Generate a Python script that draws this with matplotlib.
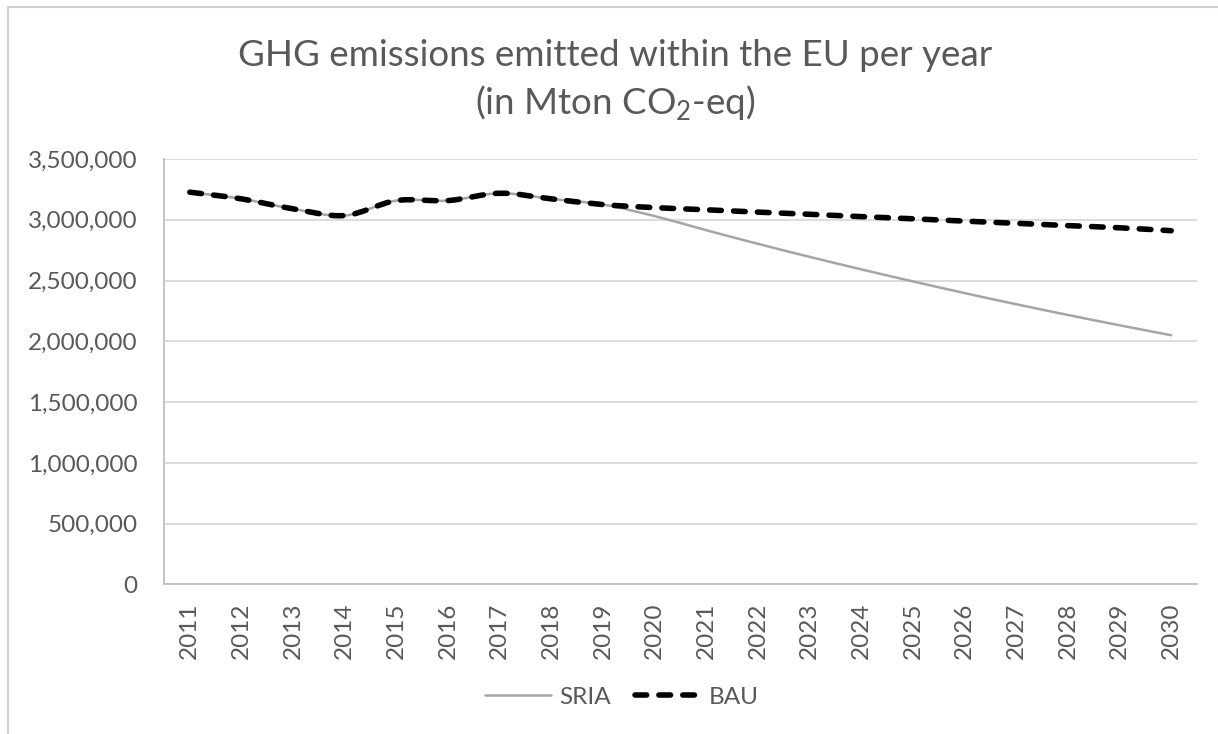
import matplotlib
matplotlib.use("Agg")
import matplotlib.pyplot as plt
import numpy as np
from matplotlib.path import Path
from matplotlib.patches import PathPatch
from matplotlib.lines import Line2D
from matplotlib.ticker import FuncFormatter, MultipleLocator

plt.rcParams['font.family'] = ['Lato', 'DejaVu Sans']
plt.rcParams['mathtext.fontset'] = 'custom'
plt.rcParams['mathtext.rm'] = 'Lato'

years = [str(y) for y in range(2011, 2031)]
bau = [3227000, 3172000, 3090000, 3035000, 3158000, 3158000, 3218000, 3172000,
       3125000, 3100000, 3082000, 3063000, 3045000, 3026000, 3008000, 2989000,
       2971000, 2952000, 2934000, 2910000]
sria = [3227000, 3172000, 3090000, 3035000, 3158000, 3158000, 3218000, 3172000,
        3125000, 3030000, 2914000, 2802000, 2695000, 2592000, 2493000, 2397000,
        2305000, 2217000, 2132000, 2050000]

TEXT = '#595959'
GRID = '#D9D9D9'
SRIA_C = '#A5A5A5'


def smooth_path(xs, ys):
    """Bezier path through the points, in the style of spreadsheet smoothed lines."""
    pts = np.column_stack([xs, ys]).astype(float)
    n = len(pts)
    verts = [pts[0]]
    codes = [Path.MOVETO]
    for i in range(n - 1):
        p0 = pts[i - 1] if i > 0 else pts[i]
        p1 = pts[i]
        p2 = pts[i + 1]
        p3 = pts[i + 2] if i + 2 < n else pts[i + 1]
        c1 = p1 + (p2 - p0) / 6.0
        c2 = p2 - (p3 - p1) / 6.0
        verts += [c1, c2, p2]
        codes += [Path.CURVE4] * 3
    return Path(verts, codes)


fig = plt.figure(figsize=(12.18, 7.34), dpi=100)
ax = fig.add_axes([164 / 1218, 1 - 584.4 / 734, (1197 - 164) / 1218, (584.4 - 159) / 734])

x = np.arange(len(years))

sria_style = dict(color=SRIA_C, linewidth=1.8, solid_capstyle='round')
bau_style = dict(color='black', linewidth=4.0, linestyle=(0, (2.1, 2.2)),
                 dash_capstyle='round')

ax.add_patch(PathPatch(smooth_path(x, sria), fill=False, edgecolor=SRIA_C,
                       linewidth=1.8, capstyle='round', zorder=3))
ax.add_patch(PathPatch(smooth_path(x, bau), fill=False, edgecolor='black',
                       linewidth=4.0, linestyle=(0, (2.1, 2.2)),
                       capstyle='round', zorder=4))

ax.set_xlim(-0.5, len(years) - 0.5)
ax.set_ylim(0, 3500000)
ax.yaxis.set_major_locator(MultipleLocator(500000))
ax.yaxis.set_major_formatter(FuncFormatter(lambda v, p: f"{int(v):,}"))
ax.set_xticks(x)
ax.set_xticklabels(years, rotation=90)

ax.grid(axis='y', color=GRID, linewidth=1.3, zorder=0)
ax.set_axisbelow(True)
for s in ['top', 'right']:
    ax.spines[s].set_visible(False)
for s in ['left', 'bottom']:
    ax.spines[s].set_color('#BFBFBF')
    ax.spines[s].set_linewidth(1.3)

ax.tick_params(axis='y', length=0, pad=19, labelsize=17.5, labelcolor=TEXT)
ax.tick_params(axis='x', length=0, pad=13, labelsize=17.5, labelcolor=TEXT)

# title
fig.text(615 / 1218, 1 - 56 / 734, "GHG emissions emitted within the EU per year",
         ha='center', va='center', fontsize=26.5, color=TEXT)
fig.text(615 / 1218, 1 - 103 / 734, "(in Mton CO$_2$-eq)",
         ha='center', va='center', fontsize=26.5, color=TEXT)

# legend
handles = [Line2D([], [], **sria_style), Line2D([], [], **bau_style)]
leg = fig.legend(handles, ['SRIA', 'BAU'], loc='center', bbox_to_anchor=(622 / 1218, 1 - 697 / 734),
                 ncol=2, frameon=False, fontsize=17.5, handlelength=2.7, columnspacing=1.0,
                 handletextpad=0.35)
for t in leg.get_texts():
    t.set_color(TEXT)

# chart frame edges
fig.add_artist(Line2D([8 / 1218, 8 / 1218], [0, 1 - 7 / 734], transform=fig.transFigure,
                      color='#D0D0D0', linewidth=1.5))
fig.add_artist(Line2D([8 / 1218, 1], [1 - 7 / 734, 1 - 7 / 734], transform=fig.transFigure,
                      color='#D0D0D0', linewidth=1.5))

fig.savefig('out.png', dpi=100, facecolor='white')
